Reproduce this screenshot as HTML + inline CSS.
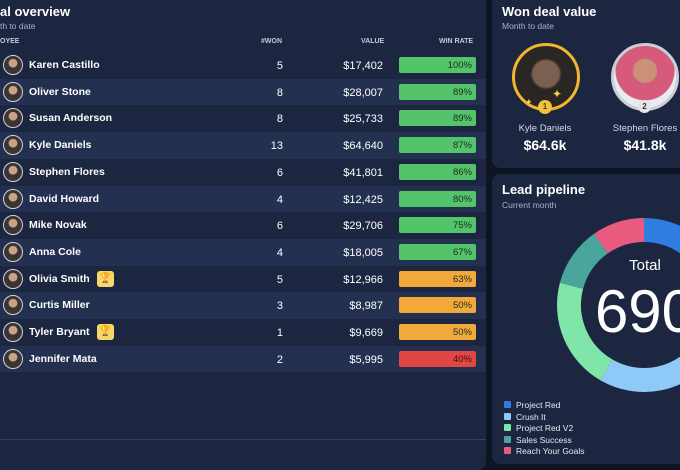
<!DOCTYPE html>
<html><head><meta charset="utf-8"><style>
*{margin:0;padding:0;box-sizing:border-box}
body{width:680px;height:450px;background:#0e1422;font-family:"Liberation Sans",sans-serif;color:#fff;position:relative;overflow:hidden}
.panel{position:absolute;background:#1d2640;border-radius:8px}
#left{left:-10px;top:-10px;width:496px;height:480px}
.title{position:absolute;font-weight:bold;font-size:13px}
.sub{position:absolute;font-size:8.5px;color:#a9b3c9}
.hdr{position:absolute;top:38px;font-size:7px;color:#c3cadb;font-weight:bold}
.row{position:absolute;left:0;width:486px;height:26.7px}
.row.l{background:#233050}
.av{position:absolute;left:3px;top:3px;width:20px;height:20px;border-radius:50%;border:1.5px solid #cfd4de;background:radial-gradient(circle at 50% 40%,#c9a184 0 30%,#3a3433 32%)}
.nm{position:absolute;left:29px;top:7px;font-size:10.5px;font-weight:bold}
.won{position:absolute;right:203px;top:8px;font-size:11px}
.val{position:absolute;right:103px;top:8px;font-size:11px}
.bar{position:absolute;left:399px;top:5px;width:77px;height:16px;border-radius:2px;font-size:9.5px;color:#1d2b22;text-align:right;padding:3px 4px 0 0}
.g{background:#53c46a}.o{background:#f1a93a}.r{background:#e04743;color:#3a1010}
.tr{position:absolute;left:97px;top:5px;width:17px;height:16px;background:#f6d86a;border-radius:3px;color:#3a2c00;font-size:10px;text-align:center;line-height:16px}
.lg{position:absolute;left:504px;font-size:8.5px;color:#e6eaf2}
.lg i{display:inline-block;width:7px;height:7px;margin-right:5px;border-radius:1px}
</style></head><body>
<div class="panel" id="left"></div>
<div class="title" style="left:0;top:4px">al overview</div>
<div class="sub" style="left:0;top:21px">th to date</div>
<div class="hdr" style="left:0">OYEE</div>
<div class="hdr" style="left:261px">#WON</div>
<div class="hdr" style="left:361px">VALUE</div>
<div class="hdr" style="left:439px">WIN RATE</div>

<div class="row" style="top:52px"><div class="av"></div><div class="nm">Karen Castillo</div><div class="won">5</div><div class="val">$17,402</div><div class="bar g">100%</div></div>
<div class="row l" style="top:78.7px"><div class="av"></div><div class="nm">Oliver Stone</div><div class="won">8</div><div class="val">$28,007</div><div class="bar g">89%</div></div>
<div class="row" style="top:105.4px"><div class="av"></div><div class="nm">Susan Anderson</div><div class="won">8</div><div class="val">$25,733</div><div class="bar g">89%</div></div>
<div class="row l" style="top:132.1px"><div class="av"></div><div class="nm">Kyle Daniels</div><div class="won">13</div><div class="val">$64,640</div><div class="bar g">87%</div></div>
<div class="row" style="top:158.8px"><div class="av"></div><div class="nm">Stephen Flores</div><div class="won">6</div><div class="val">$41,801</div><div class="bar g">86%</div></div>
<div class="row l" style="top:185.5px"><div class="av"></div><div class="nm">David Howard</div><div class="won">4</div><div class="val">$12,425</div><div class="bar g">80%</div></div>
<div class="row" style="top:212.2px"><div class="av"></div><div class="nm">Mike Novak</div><div class="won">6</div><div class="val">$29,706</div><div class="bar g">75%</div></div>
<div class="row l" style="top:238.9px"><div class="av"></div><div class="nm">Anna Cole</div><div class="won">4</div><div class="val">$18,005</div><div class="bar g">67%</div></div>
<div class="row" style="top:265.6px"><div class="av"></div><div class="nm">Olivia Smith</div><div class="tr">🏆</div><div class="won">5</div><div class="val">$12,966</div><div class="bar o">63%</div></div>
<div class="row l" style="top:292.3px"><div class="av"></div><div class="nm">Curtis Miller</div><div class="won">3</div><div class="val">$8,987</div><div class="bar o">50%</div></div>
<div class="row" style="top:319px"><div class="av"></div><div class="nm">Tyler Bryant</div><div class="tr">🏆</div><div class="won">1</div><div class="val">$9,669</div><div class="bar o">50%</div></div>
<div class="row l" style="top:345.7px"><div class="av"></div><div class="nm">Jennifer Mata</div><div class="won">2</div><div class="val">$5,995</div><div class="bar r">40%</div></div>
<div style="position:absolute;left:0;top:439px;width:486px;height:1px;background:#34405c"></div>

<div class="panel" style="left:492px;top:-10px;width:200px;height:178px"></div>
<div class="title" style="left:502px;top:4px">Won deal value</div>
<div class="sub" style="left:502px;top:21px">Month to date</div>
<div style="position:absolute;left:512px;top:43px;width:68px;height:68px;border-radius:50%;border:3px solid #f0b72e;background:radial-gradient(circle at 50% 45%,#7b6050 0 28%,#2a2624 34%)"></div>
<div style="position:absolute;left:538px;top:100px;width:14px;height:14px;border-radius:50%;background:#f0c23e;color:#5a3c00;font-size:8px;text-align:center;line-height:14px;font-weight:bold">1</div>
<div style="position:absolute;left:552px;top:87px;color:#f6d04a;font-size:12px">✦</div>
<div style="position:absolute;left:525px;top:97px;color:#f6d04a;font-size:9px">✦</div>
<div style="position:absolute;left:611px;top:43px;width:68px;height:68px;border-radius:50%;border:3px solid #c9ced8;background:radial-gradient(circle at 50% 40%,#c99278 0 24%,#d85a7a 26% 60%,#e9ecef 62%)"></div>
<div style="position:absolute;left:638px;top:100px;width:13px;height:13px;border-radius:50%;background:#e4e6ea;color:#333;font-size:8px;text-align:center;line-height:13px;font-weight:bold">2</div>
<div style="position:absolute;left:505px;top:123px;width:80px;text-align:center;font-size:9.5px;color:#d4daea">Kyle Daniels</div>
<div style="position:absolute;left:505px;top:137px;width:80px;text-align:center;font-size:14px;font-weight:bold">$64.6k</div>
<div style="position:absolute;left:605px;top:123px;width:80px;text-align:center;font-size:9.5px;color:#d4daea">Stephen Flores</div>
<div style="position:absolute;left:605px;top:137px;width:80px;text-align:center;font-size:14px;font-weight:bold">$41.8k</div>

<div class="panel" style="left:492px;top:174px;width:200px;height:290px"></div>
<div class="title" style="left:502px;top:182px">Lead pipeline</div>
<div class="sub" style="left:502px;top:200px">Current month</div>
<svg style="position:absolute;left:0;top:0" width="680" height="450">
<g transform="translate(644,305)" fill="none" stroke-width="24">
<circle r="75" stroke="#2f7de1" stroke-dasharray="130.9 600" transform="rotate(-90)"/>
<circle r="75" stroke="#8ec9f7" stroke-dasharray="144 600" transform="rotate(10)"/>
<circle r="75" stroke="#7fe5a9" stroke-dasharray="98 600" transform="rotate(120)"/>
<circle r="75" stroke="#4aa69c" stroke-dasharray="52.4 600" transform="rotate(195)"/>
<circle r="75" stroke="#e85a7e" stroke-dasharray="45.8 600" transform="rotate(235)"/>
</g>
<text x="645" y="270" fill="#fff" font-family="Liberation Sans" font-size="15" text-anchor="middle">Total</text>
<text x="645" y="332" fill="#fff" font-family="Liberation Sans" font-size="60" text-anchor="middle">690</text>
</svg>
<div class="lg" style="top:400px"><i style="background:#2f7de1"></i>Project Red</div>
<div class="lg" style="top:411.5px"><i style="background:#8ec9f7"></i>Crush It</div>
<div class="lg" style="top:423px"><i style="background:#7fe5a9"></i>Project Red V2</div>
<div class="lg" style="top:434.5px"><i style="background:#4aa69c"></i>Sales Success</div>
<div class="lg" style="top:446px"><i style="background:#e85a7e"></i>Reach Your Goals</div>
</body></html>
